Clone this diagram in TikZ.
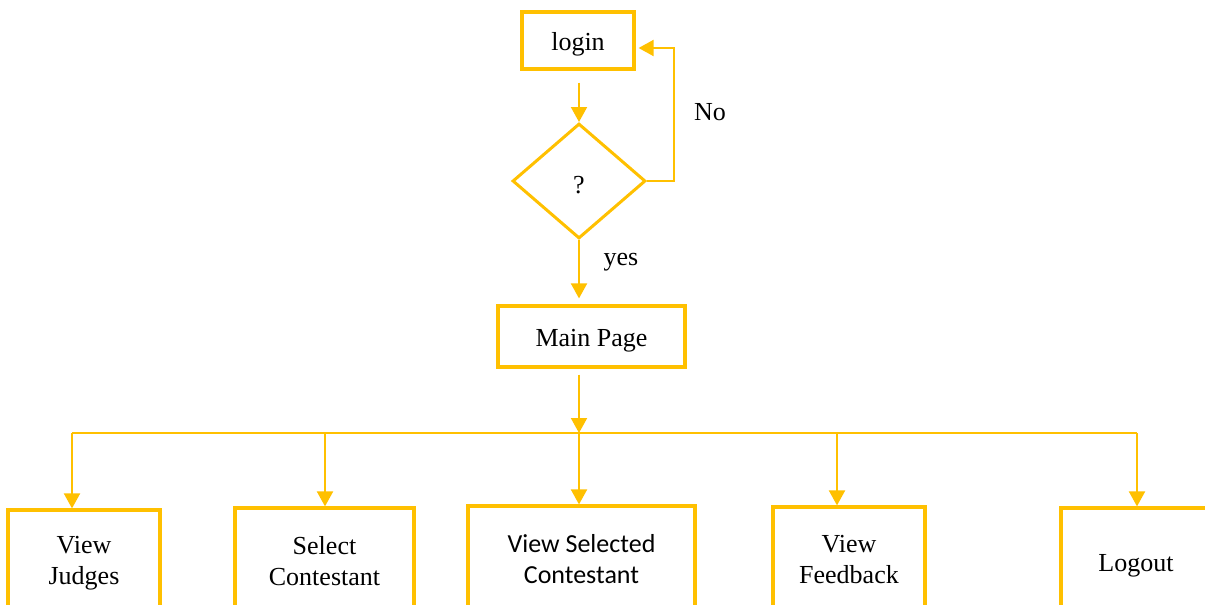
\documentclass[tikz,border=0pt]{standalone}
\usepackage{fontspec}
\setmainfont{Liberation Serif}
\newfontfamily\calib{Carlito}
\usetikzlibrary{shapes.geometric,arrows.meta}
\definecolor{gold}{HTML}{FFC000}
\tikzset{
  box/.style={draw=gold,line width=3.2pt,rectangle,inner sep=0pt,align=center,font=\fontsize{26}{31}\selectfont},
  oneline/.style={text height=22pt,text depth=2pt},
  dec/.style={draw=gold,line width=3pt,diamond,inner sep=0pt,font=\fontsize{26}{31}\selectfont},
  lbl/.style={inner sep=0pt,font=\fontsize{26}{31}\selectfont},
  conn/.style={draw=gold,line width=2pt,-{Triangle[width=16pt,length=15pt]}},
  wire/.style={draw=gold,line width=2pt}
}
\begin{document}
\begin{tikzpicture}[x=1pt,y=-1pt]
\useasboundingbox (0,0) rectangle (1205,605);
\node[box,oneline,minimum width=112pt,minimum height=57pt] (login) at (578,40.5) {login};
\node[dec,text height=26pt,text depth=2pt,minimum width=133pt,minimum height=115pt] (dia) at (579,181) {?};
\node[box,oneline,minimum width=187pt,minimum height=61pt] (main) at (591.5,336.5) {Main Page};
\node[box,minimum width=152pt,minimum height=106pt] (judges) at (84,563) {View\\Judges};
\node[box,minimum width=179pt,minimum height=106pt] (select) at (324.5,561) {Select\\Contestant};
\node[box,minimum width=227pt,minimum height=106pt,font=\calib\fontsize{26}{31}\selectfont] (viewsel) at (581.5,559) {View Selected\\Contestant};
\node[box,minimum width=152pt,minimum height=106pt] (feedback) at (849,560) {View\\Feedback};
\node[box,oneline,minimum width=150pt,minimum height=106pt] (logout) at (1136,561) {Logout};
\node[lbl] (no) at (710,112) {No};
\node[lbl] (yes) at (621,262) {yes};
\coordinate (nocorner) at (674,48);
\coordinate (b1) at (72,433);
\coordinate (b2) at (325,433);
\coordinate (b3) at (579,433);
\coordinate (b4) at (837,433);
\coordinate (b5) at (1137,433);
\draw[conn,shorten <=12pt] (dia.north |- login.south) -- (dia.north);
\draw[conn,shorten >=3pt] (dia.east) -| (nocorner) -- (nocorner -| login.east);
\draw[conn,shorten >=6pt] (dia.south) -- (dia.south |- main.north);
\draw[conn,shorten <=6pt] (b3 |- main.south) -- (b3);
\draw[wire] (b1) -- (b5);
\draw[conn] (b1) -- (b1 |- judges.north);
\draw[conn] (b2) -- (b2 |- select.north);
\draw[conn] (b3) -- (b3 |- viewsel.north);
\draw[conn] (b4) -- (b4 |- feedback.north);
\draw[conn] (b5) -- (b5 |- logout.north);
\end{tikzpicture}
\end{document}
